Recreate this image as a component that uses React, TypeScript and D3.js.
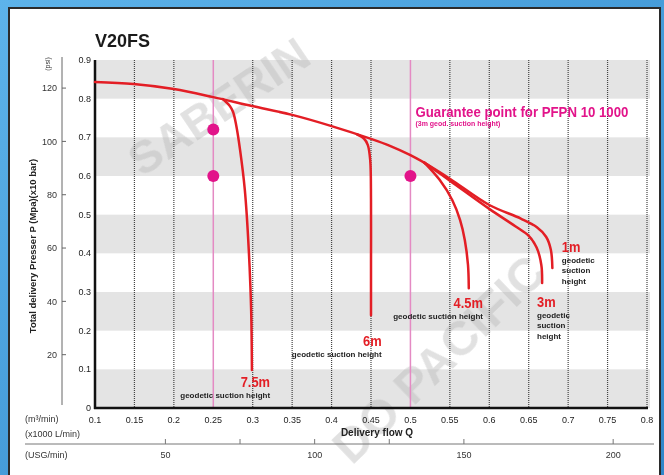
import React, { useEffect, useRef } from 'react'
import * as d3 from 'd3'

// pump curve V20FS
const xTicks = [0.1, 0.15, 0.2, 0.25, 0.3, 0.35, 0.4, 0.45, 0.5, 0.55, 0.6, 0.65, 0.7, 0.75, 0.8]
const yTicks = [0, 0.1, 0.2, 0.3, 0.4, 0.5, 0.6, 0.7, 0.8, 0.9]
const psiTicks = [20, 40, 60, 80, 100, 120]
const usgMajor = [50, 100, 150, 200]
const usgMinor = [75, 125]
const bands = [[0, 0.1], [0.2, 0.3], [0.4, 0.5], [0.6, 0.7], [0.8, 0.9]]
const pinkLines = [0.25, 0.5]

// [Q m3/min, P MPa]
const mainCurve: [number, number][] = [
  [0.1, 0.843], [0.149, 0.838], [0.2, 0.825], [0.25, 0.804], [0.299, 0.781],
  [0.35, 0.758], [0.4, 0.729], [0.45, 0.696], [0.474, 0.678], [0.5, 0.654], [0.518, 0.634],
]
const curve75: [number, number][] = [
  [0.262, 0.799], [0.271, 0.781], [0.275, 0.766], [0.279, 0.732], [0.284, 0.667],
  [0.29, 0.564], [0.295, 0.409], [0.298, 0.253], [0.299, 0.098],
]
const curve6: [number, number][] = [
  [0.432, 0.708], [0.441, 0.697], [0.446, 0.68], [0.449, 0.641], [0.45, 0.538],
  [0.45, 0.383], [0.45, 0.24],
]
const curve45: [number, number][] = [
  [0.518, 0.634], [0.537, 0.59], [0.553, 0.538], [0.563, 0.486], [0.569, 0.434],
  [0.573, 0.37], [0.574, 0.31],
]
const curve3: [number, number][] = [
  [0.518, 0.634], [0.55, 0.588], [0.6, 0.515], [0.633, 0.47], [0.65, 0.445],
  [0.66, 0.415], [0.666, 0.37], [0.667, 0.323],
]
const curve1: [number, number][] = [
  [0.518, 0.634], [0.55, 0.593], [0.6, 0.525], [0.64, 0.49], [0.66, 0.468],
  [0.672, 0.443], [0.678, 0.41], [0.68, 0.362],
]
const guaranteePoints: [number, number][] = [[0.25, 0.72], [0.25, 0.6], [0.5, 0.6]]

// label: text lines, anchor Q/P, alignment
const curveLabels = [
  { big: '7.5m', small: ['geodetic suction height'], q: 0.322, p: 0.054, anchor: 'end' },
  { big: '6m', small: ['geodetic suction height'], q: 0.4635, p: 0.16, anchor: 'end' },
  { big: '4.5m', small: ['geodetic suction height'], q: 0.592, p: 0.258, anchor: 'end' },
  { big: '3m', small: ['geodetic', 'suction', 'height'], q: 0.6605, p: 0.261, anchor: 'start' },
  { big: '1m', small: ['geodetic', 'suction', 'height'], q: 0.692, p: 0.403, anchor: 'start' },
]

const W = 664
const H = 475
const sans = "'Liberation Sans', Arial, sans-serif"
const red = '#e31e25'
const magenta = '#e2148a'

export default function App(): JSX.Element {
  const svgRef = useRef(null)

  useEffect(() => {
    const svg = d3.select(svgRef.current)
    svg.selectAll('*').remove()

    const x = d3.scaleLinear().domain([0.1, 0.8]).range([95, 647])
    const y = d3.scaleLinear().domain([0, 0.9]).range([408, 60])
    const psiToMpa = (v: number) => v * 0.00689476
    const usgToM3 = (v: number) => v * 0.003785411

    // blue frame + white panel
    const defs = svg.append('defs')
    const grad = defs.append('linearGradient').attr('id', 'bg').attr('x1', 0).attr('x2', 1).attr('y1', 0).attr('y2', 1)
    grad.append('stop').attr('offset', '0%').attr('stop-color', '#5db3ea')
    grad.append('stop').attr('offset', '100%').attr('stop-color', '#2f86c9')
    svg.append('rect').attr('width', W).attr('height', H).attr('fill', 'url(#bg)')
    svg.append('rect').attr('x', 9).attr('y', 8).attr('width', 651).attr('height', 490)
      .attr('fill', '#fff').attr('stroke', '#2b2b2b').attr('stroke-width', 2)

    // grey bands
    svg.append('g').selectAll('rect').data(bands).enter().append('rect')
      .attr('x', x(0.1)).attr('width', 650 - x(0.1))
      .attr('y', d => y(d[1])).attr('height', d => y(d[0]) - y(d[1]))
      .attr('fill', '#e4e4e4')

    // watermark
    const wm = svg.append('g').attr('fill', '#b5b5b5').attr('opacity', 0.4)
      .attr('font-family', sans).attr('font-weight', 'bold')
    wm.append('text').attr('font-size', 46).attr('transform', 'translate(142,178) rotate(-34)').text('SABERIN')
    wm.append('text').attr('font-size', 48).attr('transform', 'translate(352,466) rotate(-44)').text('DO PACIFIC')

    // dotted vertical grid
    svg.append('g').selectAll('line').data(xTicks.filter(d => d > 0.1 && !pinkLines.includes(d))).enter().append('line')
      .attr('x1', d => x(d)).attr('x2', d => x(d)).attr('y1', y(0.9)).attr('y2', y(0))
      .attr('stroke', '#444').attr('stroke-width', 1.2).attr('stroke-dasharray', '1 1')

    svg.append('g').selectAll('line').data(pinkLines).enter().append('line')
      .attr('x1', d => x(d)).attr('x2', d => x(d)).attr('y1', y(0.9)).attr('y2', y(0))
      .attr('stroke', '#e48ac3').attr('stroke-width', 1.5)

    // axes lines
    svg.append('line').attr('x1', x(0.1)).attr('x2', x(0.1)).attr('y1', y(0.9)).attr('y2', y(0) + 1)
      .attr('stroke', '#111').attr('stroke-width', 2.5)
    svg.append('line').attr('x1', x(0.1) - 1).attr('x2', x(0.8) + 1).attr('y1', y(0)).attr('y2', y(0))
      .attr('stroke', '#111').attr('stroke-width', 2.5)

    // y tick labels (MPa)
    svg.append('g').attr('font-family', sans).attr('font-size', 9).attr('fill', '#222')
      .selectAll('text').data(yTicks).enter().append('text')
      .attr('x', 91).attr('y', d => y(d)).attr('dy', '0.35em').attr('text-anchor', 'end')
      .text(d => (d === 0 ? '0' : d3.format('.1f')(d)))

    // x tick labels
    svg.append('g').attr('font-family', sans).attr('font-size', 9).attr('fill', '#222')
      .selectAll('text').data(xTicks).enter().append('text')
      .attr('x', d => x(d)).attr('y', 423).attr('text-anchor', 'middle')
      .text(d => String(+d.toFixed(2)))

    // psi axis
    svg.append('line').attr('x1', 62).attr('x2', 62).attr('y1', 57).attr('y2', 405)
      .attr('stroke', '#666').attr('stroke-width', 1)
    const psiG = svg.append('g').attr('font-family', sans).attr('font-size', 9).attr('fill', '#333')
    psiG.selectAll('line').data(psiTicks).enter().append('line')
      .attr('x1', 62).attr('x2', 66).attr('y1', d => y(psiToMpa(d))).attr('y2', d => y(psiToMpa(d)))
      .attr('stroke', '#666')
    psiG.selectAll('text').data(psiTicks).enter().append('text')
      .attr('x', 57).attr('y', d => y(psiToMpa(d))).attr('dy', '0.35em').attr('text-anchor', 'end')
      .text(d => d)
    svg.append('text').attr('transform', 'translate(50,64) rotate(-90)')
      .attr('text-anchor', 'middle').attr('font-family', sans).attr('font-size', 7).attr('fill', '#333')
      .text('(psi)')

    // y title
    svg.append('text').attr('transform', 'translate(36,246) rotate(-90)')
      .attr('text-anchor', 'middle').attr('font-family', sans).attr('font-weight', 'bold')
      .attr('font-size', 9.5).attr('fill', '#222')
      .text('Total delivery Presser  P (Mpa)(x10 bar)')

    // bottom unit labels
    const unitG = svg.append('g').attr('font-family', sans).attr('font-size', 9).attr('fill', '#333')
    unitG.append('text').attr('x', 25).attr('y', 422).text('(m³/min)')
    unitG.append('text').attr('x', 25).attr('y', 437).text('(x1000 L/min)')
    unitG.append('text').attr('x', 25).attr('y', 458).text('(USG/min)')
    svg.append('text').attr('x', 377).attr('y', 436).attr('text-anchor', 'middle')
      .attr('font-family', sans).attr('font-weight', 'bold').attr('font-size', 10).attr('fill', '#222')
      .text('Delivery flow Q')

    // USG axis
    svg.append('line').attr('x1', 25).attr('x2', 654).attr('y1', 444).attr('y2', 444)
      .attr('stroke', '#777').attr('stroke-width', 1)
    svg.append('g').selectAll('line').data([...usgMajor, ...usgMinor]).enter().append('line')
      .attr('x1', d => x(usgToM3(d))).attr('x2', d => x(usgToM3(d))).attr('y1', 439).attr('y2', 444)
      .attr('stroke', '#777')
    unitG.selectAll('text.usg').data(usgMajor).enter().append('text').attr('class', 'usg')
      .attr('x', d => x(usgToM3(d))).attr('y', 458).attr('text-anchor', 'middle').text(d => d)

    // title
    svg.append('text').attr('x', 95).attr('y', 47).attr('font-family', sans).attr('font-weight', 'bold')
      .attr('font-size', 18).attr('fill', '#1a1a1a').text('V20FS')

    // curves
    const line = d3.line<[number, number]>().x(d => x(d[0])).y(d => y(d[1])).curve(d3.curveCatmullRom.alpha(0.5))
    const curves = [mainCurve, curve75, curve6, curve45, curve3, curve1]
    svg.append('g').attr('fill', 'none').attr('stroke', red).attr('stroke-width', 2.5)
      .attr('stroke-linecap', 'round').attr('stroke-linejoin', 'round')
      .selectAll('path').data(curves).enter().append('path').attr('d', d => line(d))

    // guarantee points
    svg.append('g').selectAll('circle').data(guaranteePoints).enter().append('circle')
      .attr('cx', d => x(d[0])).attr('cy', d => y(d[1])).attr('r', 6).attr('fill', magenta)

    svg.append('text').attr('x', x(0.5) + 5).attr('y', 117).attr('font-family', sans).attr('font-weight', 'bold')
      .attr('font-size', 14).attr('fill', magenta)
      .attr('textLength', 213).attr('lengthAdjust', 'spacingAndGlyphs')
      .text('Guarantee point for PFPN 10 1000')
    svg.append('text').attr('x', x(0.5) + 5).attr('y', 126).attr('font-family', sans).attr('font-weight', 'bold')
      .attr('font-size', 6.5).attr('fill', magenta)
      .attr('textLength', 85).attr('lengthAdjust', 'spacingAndGlyphs')
      .text('(3m geod. suction height)')

    // curve labels
    curveLabels.forEach(l => {
      const g = svg.append('g').attr('text-anchor', l.anchor).attr('font-family', sans).attr('font-weight', 'bold')
        .attr('transform', `translate(${x(l.q)},${y(l.p)})`)
      g.append('text').attr('transform', 'scale(0.86,1)').attr('font-size', 15).attr('fill', red).text(l.big)
      l.small.forEach((s, i) => {
        g.append('text').attr('y', 10.5 + i * 10.8)
          .attr('font-size', 8).attr('fill', '#222').text(s)
      })
    })
  }, [])

  return (
    <svg ref={svgRef} width={W} height={H} style={{ position: 'absolute', left: 0, top: 0, display: 'block' }}></svg>
  )
}
